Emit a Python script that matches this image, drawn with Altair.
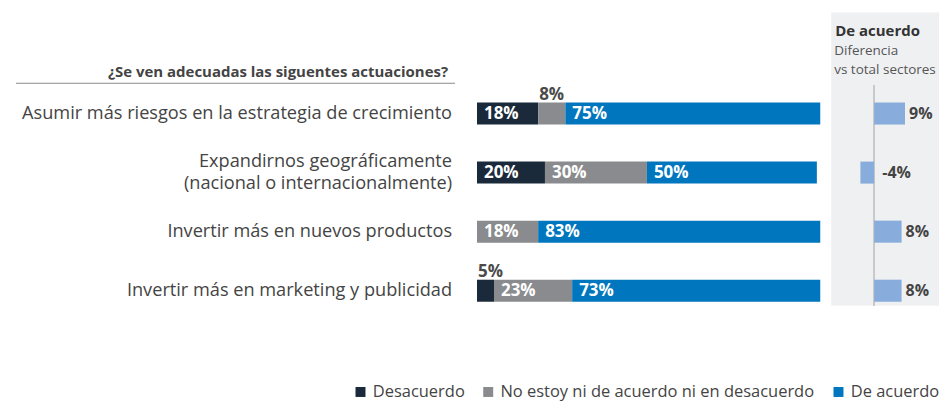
import altair as alt
import pandas as pd

categories = [
    "Asumir más riesgos en la estrategia de crecimiento",
    "Expandirnos geográficamente\n(nacional o internacionalmente)",
    "Invertir más en nuevos productos",
    "Invertir más en marketing y publicidad",
]
responses = ["Desacuerdo", "No estoy ni de acuerdo ni en desacuerdo", "De acuerdo"]
desacuerdo = [18, 20, 0, 5]
neutral = [8, 30, 18, 23]
acuerdo = [75, 50, 83, 73]
diferencia = [9, -4, 8, 8]
colors = ["#1b2a3b", "#898b8e", "#0076be"]
header = "¿Se ven adecuadas las siguentes  actuaciones?"
panel_title = "De acuerdo"
panel_sub = "Diferencia\nvs total sectores"

FONT = "Open Sans"
TXT = "#444444"

rows = []
for i, c in enumerate(categories):
    for j, (r, vals) in enumerate(zip(responses, [desacuerdo, neutral, acuerdo])):
        rows.append({"cat": c, "resp": r, "ord": j, "value": vals[i]})
df = pd.DataFrame(rows)
diff_df = pd.DataFrame({"cat": categories, "diff": diferencia})

yscale = alt.Scale(paddingInner=0.627, paddingOuter=0.797, align=0.957)
Y = alt.Y("cat:N", sort=categories, axis=None, scale=yscale)

base = alt.Chart(df).transform_stack(
    stack="value", groupby=["cat"], sort=[alt.SortField("ord")], as_=["x0", "x1"]
).transform_calculate(label="datum.value + '%'")

xs = alt.Scale(domain=[0, 101], nice=False, zero=False)

bars = base.mark_bar().encode(
    x=alt.X("x0:Q", scale=xs, axis=None),
    x2="x1:Q",
    y=Y,
    color=alt.Color(
        "resp:N",
        scale=alt.Scale(domain=responses, range=colors),
        title=None,
        sort=responses,
    ),
)

inside = base.transform_filter("datum.value >= 10").mark_text(
    align="left", baseline="middle", dx=7, color="white",
    fontWeight="bold", fontSize=17, font=FONT,
).encode(x=alt.X("x0:Q", scale=xs, axis=None), y=Y, text="label:N")

above = base.transform_filter("datum.value > 0 && datum.value < 10").mark_text(
    align="left", baseline="alphabetic", dx=1, dy=-14, color="#4a4a4a",
    fontWeight="bold", fontSize=17, font=FONT,
).encode(x=alt.X("x0:Q", scale=xs, axis=None), y=Y, text="label:N")

cat_df = pd.DataFrame({"cat": categories})
cat_single = alt.Chart(cat_df).transform_filter(
    "indexof(datum.cat, '\\n') < 0"
).mark_text(
    align="right", baseline="middle", fontSize=18.2, color=TXT, font=FONT,
).encode(x=alt.value(-25), y=Y, text="cat:N")
cat_multi = alt.Chart(cat_df).transform_filter(
    "indexof(datum.cat, '\\n') >= 0"
).mark_text(
    align="right", baseline="middle", fontSize=18.2, color=TXT, font=FONT,
    lineBreak="\n", lineHeight=22, dy=-11,
).encode(x=alt.value(-25), y=Y, text="cat:N")

hdr_df = pd.DataFrame({"t": [header]})
hdr = alt.Chart(hdr_df).mark_text(
    align="right", baseline="middle", fontSize=15, fontWeight="bold",
    color=TXT, font=FONT,
).encode(x=alt.value(-29), y=alt.value(60), text="t:N")

hdr_rule = alt.Chart(hdr_df).mark_rule(
    color="#8a8a8a", strokeWidth=1.2
).encode(x=alt.value(-462), x2=alt.value(-22), y=alt.value(71))

left = alt.layer(bars, inside, above, cat_single, cat_multi, hdr, hdr_rule).properties(
    width=344, height=294
)

dx_scale = alt.Scale(domain=[-12.5, 18.9], nice=False, zero=False)
dbase = alt.Chart(diff_df).transform_calculate(
    label="datum.diff + '%'", pos="datum.diff > 0 ? datum.diff : 1.2", zero="0"
)
zero_rule = dbase.mark_rule(color="#c9c9c9", strokeWidth=1.5).encode(
    x=alt.X("zero:Q", scale=dx_scale, axis=None), y=alt.value(73), y2=alt.value(294)
)
dbars = dbase.mark_bar(color="#88acdb").encode(
    x=alt.X("diff:Q", scale=dx_scale, axis=None), x2="zero:Q", y=Y
)
dlabels = dbase.mark_text(
    align="left", baseline="middle", dx=4, fontWeight="bold", fontSize=16,
    color=TXT, font=FONT,
).encode(x=alt.X("pos:Q", scale=dx_scale, axis=None), y=Y, text="label:N")

pt_df = pd.DataFrame({"t": [panel_title], "s": [panel_sub]})
ptitle = alt.Chart(pt_df).mark_text(
    align="left", baseline="middle", fontSize=15, fontWeight="bold",
    color="#333333", font=FONT,
).encode(x=alt.value(4), y=alt.value(19), text="t:N")
psub = alt.Chart(pt_df).mark_text(
    align="left", baseline="middle", fontSize=13.5, color="#555555",
    font=FONT, lineBreak="\n", lineHeight=19,
).encode(x=alt.value(3), y=alt.value(39), text="s:N")

right = alt.layer(zero_rule, dbars, dlabels, ptitle, psub).properties(
    width=108, height=294,
    view=alt.ViewBackground(fill="#eff0f2", stroke=None),
)

chart = alt.hconcat(left, right, spacing=11).properties(
    padding={"left": 7, "top": 4, "right": 0, "bottom": 0}
).configure_legend(
    orient="none", legendX=-125, legendY=372, direction="horizontal",
    symbolType="square", symbolSize=100, symbolStrokeWidth=0,
    labelFontSize=16.5, labelColor=TXT, labelFont=FONT, columnPadding=15,
    labelLimit=500,
).configure_view(stroke=None)

chart.save("out.html", embed_options={"renderer": "svg", "actions": False})
